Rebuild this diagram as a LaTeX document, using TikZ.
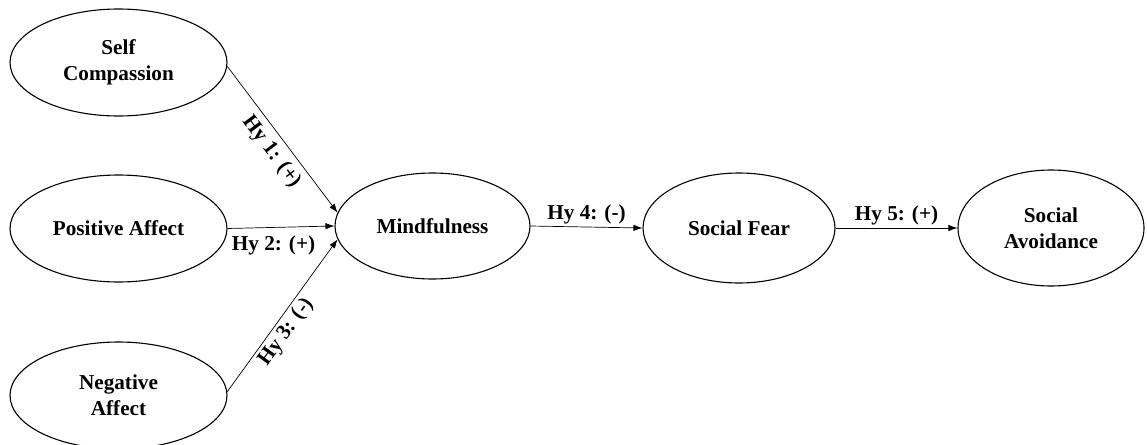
\documentclass[tikz,border=0pt]{standalone}
\usepackage{fontspec}
\setmainfont{Liberation Serif}
\usetikzlibrary{shapes.geometric,arrows.meta}
\tikzset{
  construct/.style={ellipse, draw, line width=1.1pt, inner sep=0pt, align=center,
    font=\fontsize{21.2}{26}\selectfont\bfseries},
  path/.style={line width=0.7pt, -{Latex[length=9pt,width=6.5pt]}},
  hlabel/.style={font=\fontsize{21.2}{26}\selectfont\bfseries, inner sep=2pt}
}
\begin{document}
\begin{tikzpicture}[x=1pt,y=-1pt]
\useasboundingbox (0,0) rectangle (1147,444);
\node[construct, minimum width=217pt, minimum height=107pt] (sc) at (118.5,62.5) {Self\\Compassion};
\node[construct, minimum width=217pt, minimum height=107pt] (pa) at (118.5,228.5) {Positive Affect};
\node[construct, minimum width=217pt, minimum height=107pt] (na) at (118.5,395.5) {Negative\\Affect};
\node[construct, minimum width=195pt, minimum height=106pt] (mi) at (432.5,226) {Mindfulness};
\node[construct, minimum width=192pt, minimum height=110pt] (sf) at (739,228) {Social Fear};
\node[construct, minimum width=186pt, minimum height=116pt] (sa) at (1051,228) {Social\\Avoidance};

\draw[path] (sc.-2) -- node[hlabel, sloped, below=4pt, pos=0.52] {Hy 1: (+)} (mi.172);
\draw[path] (pa.east) -- node[hlabel, below=6pt, pos=0.43] {Hy 2: (+)} (mi.west);
\draw[path] (na.2) -- node[hlabel, sloped, below=1pt, pos=0.44] {Hy 3: (-)} (mi.188);
\draw[path] (mi.east) -- node[hlabel, above=1pt] {Hy 4: (-)} (sf.west);
\draw[path] (sf.east) -- node[hlabel, above=1pt] {Hy 5: (+)} (sa.west);
\end{tikzpicture}
\end{document}
